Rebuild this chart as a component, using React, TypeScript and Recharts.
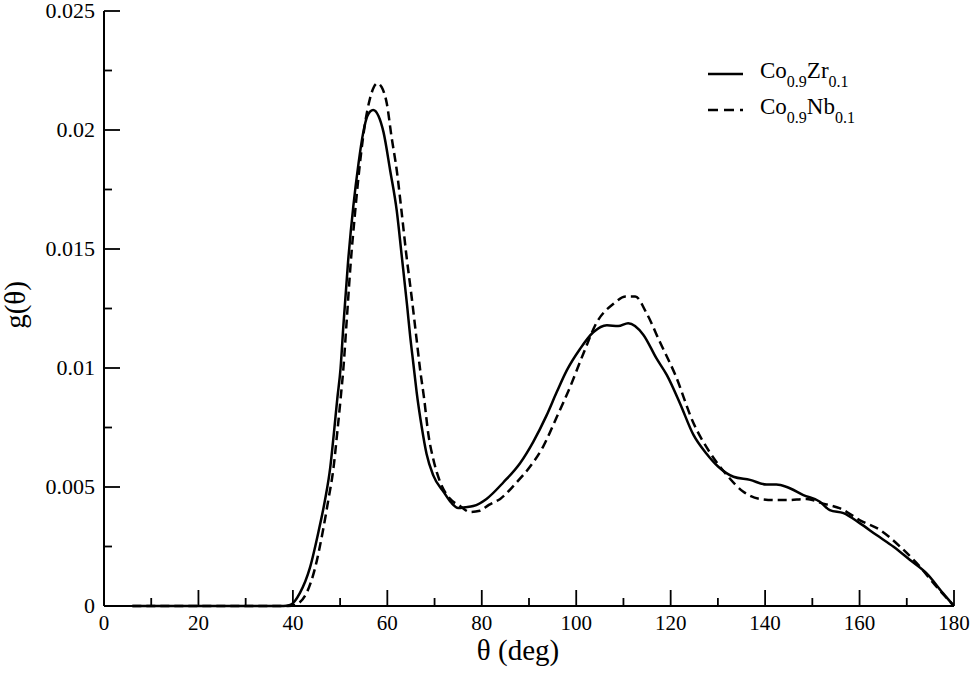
import React from 'react';
import { LineChart, Line, XAxis, YAxis, Legend } from 'recharts';

// angles (deg) and g(theta)
const zrTheta = [6, 10, 20, 30, 38, 39.4, 41.5, 43.6, 45.4, 46.8, 47.9, 48.7, 49.4, 50.1, 50.7, 51.7, 52.8, 53.9, 54.9, 55.8, 57.0, 58.1, 59.2, 60.6, 62.0, 63.0, 64.2, 64.8, 65.5, 66.2, 67.3, 68.3, 69.7, 71.9, 73.5, 75.0, 76.5, 78.2, 81.0, 84.6, 88.1, 90.9, 93.7, 95.9, 98.0, 100.8, 103.6, 106.5, 108.9, 111.0, 114.2, 117.0, 119.2, 122.0, 124.8, 127.6, 130.1, 133.3, 136.8, 140.3, 142.4, 144.6, 148.1, 151.6, 153.7, 156.6, 160.1, 163.6, 167.2, 170.7, 174.2, 177.7, 180];
const zrG = [0, 0, 0, 0, 0, 0.00004, 0.00055, 0.0016, 0.0031, 0.00445, 0.0058, 0.0073, 0.0087, 0.01, 0.0118, 0.0145, 0.0168, 0.0186, 0.0199, 0.0206, 0.02084, 0.0206, 0.0199, 0.0183, 0.0166, 0.0148, 0.0126, 0.0114, 0.0102, 0.009, 0.0075, 0.0064, 0.0055, 0.0048, 0.00435, 0.00412, 0.00415, 0.0042, 0.0045, 0.0052, 0.006, 0.0069, 0.008, 0.009, 0.0099, 0.0108, 0.0115, 0.0118, 0.01176, 0.01188, 0.0114, 0.0104, 0.0097, 0.0085, 0.0072, 0.0064, 0.00585, 0.00543, 0.0053, 0.0051, 0.0051, 0.005, 0.00466, 0.00438, 0.00403, 0.0039, 0.00347, 0.00298, 0.00249, 0.00193, 0.00137, 0.00053, 0];

const nbTheta = [6, 10, 20, 30, 39, 40.4, 42.9, 44.7, 46.3, 47.5, 48.6, 49.4, 50.1, 50.7, 51.4, 52.2, 53.2, 54.2, 55.3, 56.3, 57.9, 58.8, 59.9, 60.9, 62.0, 63.0, 64.0, 65.2, 66.2, 66.9, 67.8, 68.7, 69.7, 70.5, 71.2, 73.3, 75.4, 77.5, 79.6, 81.5, 83.9, 87.4, 90.2, 93.0, 95.9, 98.7, 101.5, 104.3, 107.9, 110.5, 112.5, 114.9, 117.7, 121.0, 124.8, 128.3, 131.9, 135.4, 138.9, 142.4, 144.6, 148.8, 152.3, 155.9, 160.1, 164.3, 168.6, 172.1, 176.3, 180];
const nbG = [0, 0, 0, 0, 0, 0.00004, 0.00055, 0.0016, 0.0031, 0.00445, 0.0058, 0.0073, 0.0087, 0.01, 0.012, 0.0143, 0.0166, 0.0186, 0.0203, 0.0213, 0.02196, 0.0218, 0.0211, 0.0197, 0.0183, 0.0166, 0.0148, 0.0129, 0.0112, 0.01, 0.0087, 0.0072, 0.0062, 0.0056, 0.0052, 0.0045, 0.0042, 0.00395, 0.004, 0.00425, 0.0045, 0.0052, 0.00585, 0.0067, 0.00795, 0.0092, 0.0106, 0.0119, 0.0127, 0.013, 0.013, 0.0123, 0.0111, 0.0097, 0.0077, 0.00645, 0.0055, 0.0048, 0.0045, 0.00445, 0.00445, 0.0045, 0.0043, 0.0041, 0.0036, 0.0032, 0.00249, 0.0018, 0.00081, 0];

const xTicks = [0, 10, 20, 30, 40, 50, 60, 70, 80, 90, 100, 110, 120, 130, 140, 150, 160, 170, 180];
const yTicks = [0, 0.0025, 0.005, 0.0075, 0.01, 0.0125, 0.015, 0.0175, 0.02, 0.0225, 0.025];
const yTickLabels = ['0', '', '0.005', '', '0.01', '', '0.015', '', '0.02', '', '0.025'];

const seriesNames = ['Zr', 'Nb'];

const zrData = zrTheta.map((x, i) => ({ x, g: zrG[i] }));
const nbData = nbTheta.map((x, i) => ({ x, g: nbG[i] }));

const FONT = 'Liberation Serif';
const MAJOR = 16;
const MINOR = 8;

const BottomTick = (props: any) => {
  const { x, y, payload, side } = props;
  const major = payload.value % 20 === 0;
  const len = major ? MAJOR : MINOR;
  const dir = side === 'top' ? 1 : -1;
  return (
    <g>
      <line x1={x} y1={y} x2={x} y2={y + dir * len} stroke="#000" strokeWidth={1.8} />
      {side !== 'top' && major && (
        <text x={x} y={y + 24} textAnchor="middle" fontFamily={FONT} style={{ fontFamily: FONT }} fontSize={21} fill="#000" stroke="none">
          {String(payload.value)}
        </text>
      )}
    </g>
  );
};

const LeftTick = (props: any) => {
  const { x, y, payload, index, side } = props;
  const idx = yTicks.indexOf(payload.value);
  const i = idx >= 0 ? idx : index;
  const major = i % 2 === 0;
  const len = major ? MAJOR : MINOR;
  const dir = side === 'right' ? -1 : 1;
  return (
    <g>
      <line x1={x} y1={y} x2={x + dir * len} y2={y} stroke="#000" strokeWidth={1.8} />
      {side !== 'right' && major && (
        <text x={x - 9} y={y + 7} textAnchor="end" fontFamily={FONT} style={{ fontFamily: FONT }} fontSize={22} fill="#000" stroke="none">
          {yTickLabels[i]}
        </text>
      )}
    </g>
  );
};

const LegendBox = () => {
  const rows = [
    { name: seriesNames[0], dash: undefined as string | undefined, y: 0 },
    { name: seriesNames[1], dash: '10 6', y: 36 },
  ];
  return (
    <svg width={200} height={60} style={{ overflow: 'visible', display: 'block' }}>
      {rows.map((r, i) => (
        <g key={i} transform={`translate(0, ${r.y + 10})`}>
          <line x1={3} y1={0} x2={38} y2={0} stroke="#000" strokeWidth={2.5} strokeDasharray={r.dash} />
          <text x={55} y={4} style={{ fontFamily: FONT }} fontSize={23} fill="#000">
            Co
            <tspan fontSize={16} dy={9}>0.9</tspan>
            <tspan dy={-9}>{r.name}</tspan>
            <tspan fontSize={16} dy={9}>0.1</tspan>
          </text>
        </g>
      ))}
    </svg>
  );
};

export default function App() {
  return (
    <div style={{ position: 'absolute', left: 0, top: 0, width: 974, height: 674, background: '#fff', fontFamily: FONT }}>
      <LineChart width={974} height={674} margin={{ top: 11, right: 20, bottom: 0, left: 0 }}>
        <XAxis
          xAxisId="bottom"
          dataKey="x"
          type="number"
          domain={[0, 180]}
          ticks={xTicks}
          interval={0}
          height={68}
          tickSize={0}
          tickMargin={0}
          tickLine={false}
          axisLine={{ stroke: '#000', strokeWidth: 2 }}
          tick={<BottomTick side="bottom" />}
          allowDataOverflow
          label={(p: any) => (
            <text x={518} y={660} textAnchor="middle" style={{ fontFamily: FONT }} fontSize={29} fill="#000">
              θ (deg)
            </text>
          )}
        />
        <XAxis
          xAxisId="top"
          orientation="top"
          dataKey="x"
          type="number"
          domain={[0, 180]}
          ticks={xTicks}
          interval={0}
          height={0}
          tickSize={0}
          tickMargin={0}
          tickLine={false}
          axisLine={{ stroke: '#000', strokeWidth: 2 }}
          tick={<BottomTick side="top" />}
        />
        <YAxis
          yAxisId="left"
          type="number"
          domain={[0, 0.025]}
          ticks={yTicks}
          interval={0}
          width={104}
          tickSize={0}
          tickMargin={0}
          tickLine={false}
          axisLine={{ stroke: '#000', strokeWidth: 2 }}
          tick={<LeftTick side="left" />}
          label={(p: any) => (
            <text
              x={15}
              y={305}
              transform="rotate(-90 15 305)"
              textAnchor="middle"
              dominantBaseline="central"
              style={{ fontFamily: FONT }}
              fontSize={29}
              fill="#000"
            >
              g(θ)
            </text>
          )}
        />
        <YAxis
          yAxisId="right"
          orientation="right"
          type="number"
          domain={[0, 0.025]}
          ticks={yTicks}
          interval={0}
          width={0}
          tickSize={0}
          tickMargin={0}
          tickLine={false}
          axisLine={{ stroke: '#000', strokeWidth: 2 }}
          tick={<LeftTick side="right" />}
        />
        <Legend
          layout="horizontal"
          align="center"
          verticalAlign="middle"
          content={<LegendBox />}
          wrapperStyle={{ position: 'absolute', left: 705, top: 64, width: 220, height: 60 }}
        />
        <Line
          xAxisId="bottom"
          yAxisId="left"
          data={zrData}
          dataKey="g"
          name="Co0.9Zr0.1"
          type="monotone"
          stroke="#000"
          strokeWidth={2.5}
          dot={false}
          isAnimationActive={false}
        />
        <Line
          xAxisId="bottom"
          yAxisId="left"
          data={nbData}
          dataKey="g"
          name="Co0.9Nb0.1"
          type="monotone"
          stroke="#000"
          strokeWidth={2.5}
          strokeDasharray="9 5"
          dot={false}
          isAnimationActive={false}
        />
      </LineChart>
    </div>
  );
}
